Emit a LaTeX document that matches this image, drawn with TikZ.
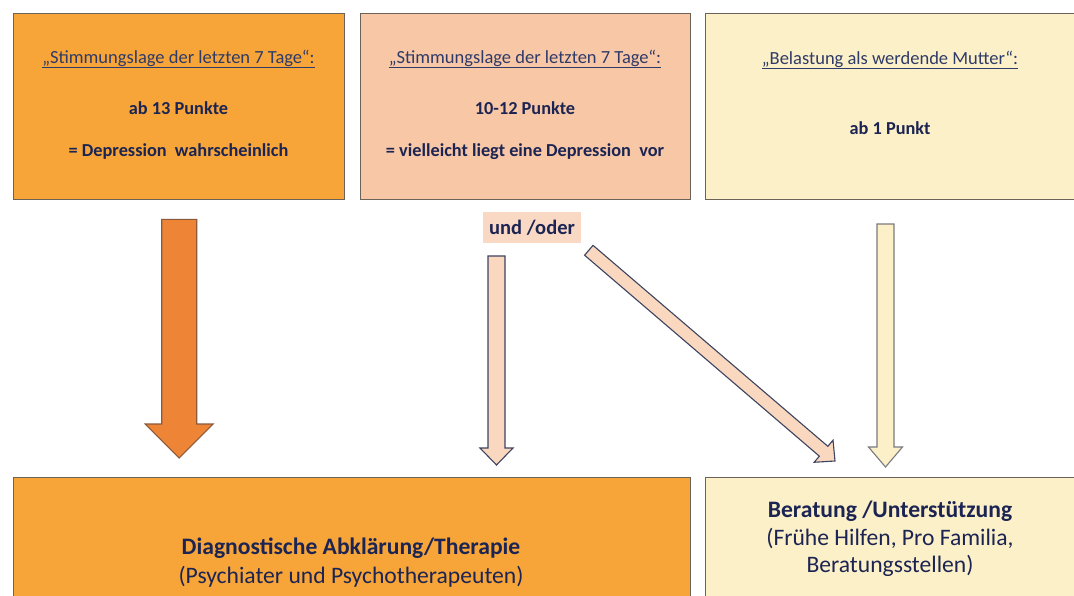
\documentclass[tikz,border=0pt]{standalone}
\usepackage{fontspec}
\setmainfont{Carlito}
\usetikzlibrary{calc}
\definecolor{orangeBox}{HTML}{F7A538}
\definecolor{peachBox}{HTML}{F8C7A6}
\definecolor{creamBox}{HTML}{FCF0C8}
\definecolor{boxLine}{HTML}{6B6358}
\definecolor{bigArrow}{HTML}{EE8436}
\definecolor{bigArrowLine}{HTML}{8B5A3C}
\definecolor{peachArrow}{HTML}{FAD8C0}
\definecolor{slateLine}{HTML}{3C4460}
\definecolor{creamArrow}{HTML}{FCF0C8}
\definecolor{grayLine}{HTML}{7A7A80}
\definecolor{navyText}{HTML}{1B2452}
\definecolor{titleText}{HTML}{2E3A68}
\definecolor{labelFill}{HTML}{FAD9C4}
\tikzset{
  box/.style={draw=boxLine, line width=1.4pt, inner sep=0pt, anchor=north west},
  titletxt/.style={text=titleText, font=\fontsize{18.5}{22}\selectfont, inner sep=0pt},
  boldtxt/.style={text=navyText, font=\fontsize{18.3}{22}\selectfont\bfseries, inner sep=0pt},
  bighead/.style={text=navyText, font=\fontsize{23.6}{28}\selectfont\bfseries, inner sep=0pt},
  bigsub/.style={text=navyText, font=\fontsize{23.6}{28}\selectfont, inner sep=0pt},
  orangearrow/.style={fill=bigArrow, draw=bigArrowLine, line width=1.1pt},
  peacharrow/.style={fill=peachArrow, draw=slateLine, line width=1.1pt},
  creamarrow/.style={fill=creamArrow, draw=grayLine, line width=1.1pt},
}
\newcommand{\blockarr}[6]{%
  \coordinate (ba-c) at ($(#3)!#6!(#2)$);
  \draw[#1] ($(#2)!#4!90:(#3)$) -- ($(ba-c)!#4!90:(#3)$) -- ($(ba-c)!#5!90:(#3)$) -- (#3)
    -- ($(ba-c)!#5!-90:(#3)$) -- ($(ba-c)!#4!-90:(#3)$) -- ($(#2)!#4!-90:(#3)$) -- cycle;
}
\begin{document}
\begin{tikzpicture}[x=1pt,y=-1pt]
\useasboundingbox (0,0) rectangle (1074,596);
\clip (0,0) rectangle (1074,596);
\fill[white] (0,0) rectangle (1074,596);
% top boxes
\node[box, fill=orangeBox, minimum width=331pt, minimum height=186pt] (b1) at (13,13) {};
\node[box, fill=peachBox, minimum width=330pt, minimum height=186pt] (b2) at (360,13) {};
\node[box, fill=creamBox, minimum width=380pt, minimum height=186pt] (b3) at (705,13) {};
% bottom boxes
\node[box, fill=orangeBox, minimum width=677pt, minimum height=140pt] (b4) at (13,477) {};
\node[box, fill=creamBox, minimum width=380pt, minimum height=140pt] (b5) at (705,477) {};
% texts box 1
\node[titletxt] (t1a) at (178.5,59) {\underline{„Stimmungslage der letzten 7 Tage“:}};
\node[boldtxt] (t1b) at (178.5,108) {ab 13 Punkte};
\node[boldtxt] (t1c) at (178.5,152) {= Depression\ \ wahrscheinlich};
% texts box 2
\node[titletxt] (t2a) at (525,59) {\underline{„Stimmungslage der letzten 7 Tage“:}};
\node[boldtxt] (t2b) at (525,108) {10-12 Punkte};
\node[boldtxt] (t2c) at (525,152) {= vielleicht liegt eine Depression\ \ vor};
% texts box 3
\node[titletxt] (t3a) at (890,60) {\underline{„Belastung als werdende Mutter“:}};
\node[boldtxt] (t3b) at (890,128) {ab 1 Punkt};
% bottom texts
\node[bighead] (t4a) at (351,548) {Diagnostische Abklärung/Therapie};
\node[bigsub] (t4b) at (351,577) {(Psychiater und Psychotherapeuten)};
\node[bighead] (t5a) at (890,511) {Beratung /Unterstützung};
\node[bigsub] (t5b) at (890,539) {(Frühe Hilfen, Pro Familia,};
\node[bigsub] (t5c) at (890,566) {Beratungsstellen)};
% und/oder label
\node[fill=labelFill, minimum width=98pt, minimum height=31pt, inner sep=0pt,
      text=navyText, font=\fontsize{20.5}{24}\selectfont\bfseries] (und) at (532,227.5) {und /oder};
% arrow end points
\coordinate (a1t) at ($(b1.south)+(0,19)$);
\coordinate (a1h) at ($(b4.north -| a1t)+(0,-19)$);
\coordinate (a2t) at (496.5,256);
\coordinate (a2h) at (496.5,465);
\coordinate (a3t) at (588.8,250.3);
\coordinate (a3h) at (835,461);
\coordinate (a4t) at (885.5,224);
\coordinate (a4h) at (885.5,467);
\blockarr{orangearrow}{a1t}{a1h}{17.5pt}{34pt}{34pt}
\blockarr{peacharrow}{a2t}{a2h}{8.5pt}{16.5pt}{17pt}
\blockarr{peacharrow}{a3t}{a3h}{6.5pt}{14.5pt}{15pt}
\blockarr{creamarrow}{a4t}{a4h}{8.5pt}{17pt}{20pt}
\end{tikzpicture}
\end{document}
